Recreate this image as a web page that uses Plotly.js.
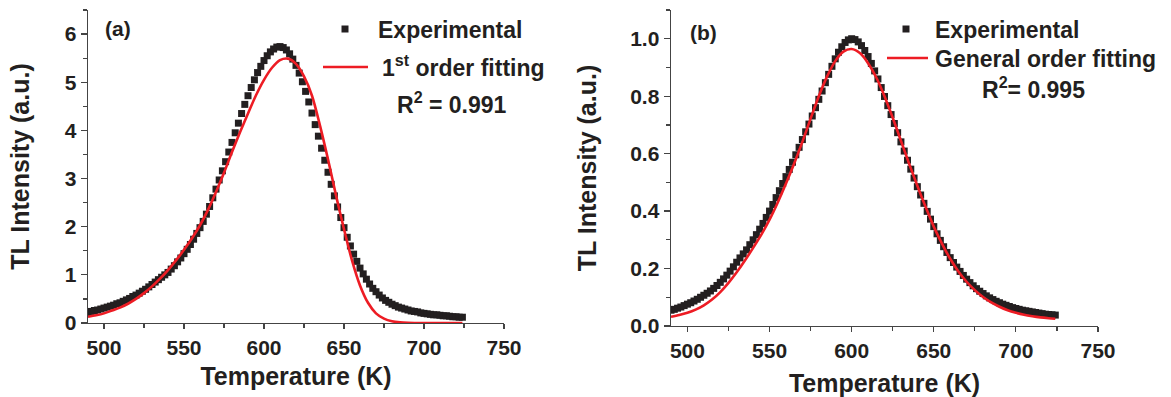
<!DOCTYPE html>
<html>
<head>
<meta charset="utf-8">
<script src="https://cdn.plot.ly/plotly-3.0.1.min.js"></script>
<style>
  html, body { margin: 0; padding: 0; background: #ffffff; }
  #chart { width: 1171px; height: 397px; }
</style>
</head>
<body>
<div id="chart"></div>
<script>
// ---------- Data ----------
// Temperatures of the experimental points (K), shared by both panels
const tempExp = [
  490,492,494,496,498,500,502,504,506,508,
  510,512,514,516,518,520,522,524,526,528,
  530,532,534,536,538,540,542,544,546,548,
  550,552,554,556,558,560,562,564,566,568,
  570,572,574,576,578,580,582,584,586,588,
  590,592,594,596,598,600,602,604,606,608,
  610,612,614,616,618,620,622,624,626,628,
  630,632,634,636,638,640,642,644,646,648,
  650,652,654,656,658,660,662,664,666,668,
  670,672,674,676,678,680,682,684,686,688,
  690,692,694,696,698,700,702,704,706,708,
  710,712,714,716,718,720,722,724
];

// Panel (a): experimental TL intensity
const expA = [
  0.22,0.24,0.26,0.27,0.29,0.31,0.33,0.35,0.37,0.40,
  0.42,0.45,0.48,0.51,0.55,0.58,0.62,0.66,0.70,0.75,
  0.80,0.85,0.90,0.95,1.00,1.05,1.12,1.19,1.27,1.35,
  1.44,1.53,1.63,1.74,1.86,1.98,2.11,2.26,2.42,2.60,
  2.78,2.97,3.16,3.35,3.55,3.75,3.95,4.15,4.35,4.54,
  4.72,4.89,5.05,5.20,5.33,5.45,5.55,5.63,5.69,5.73,
  5.74,5.72,5.67,5.59,5.48,5.35,5.19,5.01,4.81,4.59,
  4.36,4.12,3.88,3.63,3.38,3.13,2.88,2.64,2.41,2.19,
  1.98,1.78,1.60,1.43,1.28,1.14,1.02,0.91,0.81,0.72,
  0.65,0.58,0.52,0.47,0.43,0.39,0.36,0.33,0.31,0.29,
  0.27,0.25,0.24,0.23,0.21,0.20,0.19,0.18,0.17,0.17,
  0.16,0.15,0.15,0.14,0.13,0.13,0.12,0.12
];

// Panel (b): experimental TL intensity (normalised)
const expB = [
  0.055,0.058,0.062,0.066,0.071,0.076,0.081,0.087,0.093,0.100,
  0.107,0.114,0.122,0.131,0.141,0.152,0.164,0.177,0.191,0.206,
  0.222,0.237,0.251,0.265,0.283,0.300,0.318,0.337,0.357,0.378,
  0.400,0.423,0.447,0.471,0.496,0.520,0.545,0.570,0.596,0.622,
  0.649,0.676,0.703,0.731,0.760,0.789,0.818,0.847,0.876,0.904,
  0.930,0.953,0.972,0.987,0.996,1.000,0.997,0.989,0.976,0.959,
  0.938,0.914,0.888,0.860,0.830,0.799,0.767,0.736,0.705,0.673,
  0.641,0.609,0.577,0.546,0.515,0.485,0.456,0.427,0.399,0.372,
  0.346,0.321,0.298,0.276,0.256,0.238,0.221,0.205,0.190,0.176,
  0.163,0.151,0.140,0.130,0.121,0.113,0.105,0.098,0.092,0.086,
  0.081,0.076,0.072,0.068,0.064,0.061,0.058,0.055,0.053,0.051,
  0.049,0.047,0.045,0.043,0.041,0.040,0.039,0.038
];

// Temperatures of the fitted curves (K)
const tempFit = [
  490,495,500,505,510,515,520,525,530,535,
  540,545,550,555,560,565,570,575,580,585,
  590,595,600,605,610,615,620,625,630,635,
  640,645,650,655,660,665,670,675,680,685,
  690,695,700,705,710,715,720,724
];

// Panel (a): 1st order fitting
const fitA = [
  0.13,0.16,0.20,0.26,0.32,0.40,0.50,0.62,0.76,0.92,
  1.10,1.30,1.52,1.76,2.03,2.35,2.72,3.12,3.55,3.96,
  4.35,4.73,5.05,5.30,5.46,5.49,5.38,5.12,4.72,4.10,
  3.40,2.65,1.95,1.30,0.78,0.42,0.20,0.09,0.035,0.013,
  0.004,0.001,0,0,0,0,0,0
];

// Panel (b): general order fitting
const fitB = [
  0.032,0.038,0.046,0.057,0.072,0.092,0.118,0.150,0.187,0.228,
  0.272,0.318,0.370,0.430,0.496,0.566,0.641,0.722,0.800,0.868,
  0.922,0.955,0.964,0.950,0.915,0.865,0.800,0.725,0.645,0.565,
  0.488,0.415,0.346,0.287,0.234,0.190,0.154,0.125,0.101,0.082,
  0.067,0.055,0.046,0.039,0.034,0.030,0.027,0.025
];

// Text
const labelExp = 'Experimental';
const labelFitA = '1<sup>st</sup> order fitting';
const labelFitB = 'General order fitting';
const r2A = 'R<sup>2</sup> = 0.991';
const r2B = 'R<sup>2</sup>= 0.995';
const xTitle = 'Temperature (K)';
const yTitle = 'TL Intensity (a.u.)';

// ---------- Styles ----------
const FAM = 'Liberation Sans, Arial, Helvetica, sans-serif';
const INK = '#231f20';
const RED = '#ed1c24';
const W = 1171, H = 397;
const px = v => v / W;
const py = v => 1 - v / H;

const traces = [
  { x: tempExp, y: expA, type: 'scatter', mode: 'markers', name: labelExp,
    marker: { symbol: 'square', size: 7, color: INK },
    xaxis: 'x', yaxis: 'y', showlegend: false },
  { x: tempFit, y: fitA, type: 'scatter', mode: 'lines', name: labelFitA,
    line: { color: RED, width: 2.6, shape: 'spline', smoothing: 0.8 },
    xaxis: 'x', yaxis: 'y', showlegend: false },
  { x: tempExp, y: expB, type: 'scatter', mode: 'markers', name: labelExp,
    marker: { symbol: 'square', size: 7, color: INK },
    xaxis: 'x2', yaxis: 'y2', showlegend: false },
  { x: tempFit, y: fitB, type: 'scatter', mode: 'lines', name: labelFitB,
    line: { color: RED, width: 2.6, shape: 'spline', smoothing: 0.8 },
    xaxis: 'x2', yaxis: 'y2', showlegend: false }
];

const tickFont = { family: FAM, size: 21, color: INK, weight: 'bold' };
const titleFont = { family: FAM, size: 25, color: INK, weight: 'bold' };

function xAxis(domain, anchor, standoff) {
  return {
    domain: domain, anchor: anchor, range: [490, 750],
    tickmode: 'linear', tick0: 500, dtick: 50,
    ticks: 'outside', ticklen: 5, tickwidth: 1.2, tickcolor: '#444',
    minor: { dtick: 25, tick0: 500, ticks: 'outside', ticklen: 4, tickwidth: 1.2, tickcolor: '#444' },
    showline: true, linecolor: '#444', linewidth: 1.4, mirror: false,
    showgrid: false, zeroline: false,
    tickfont: tickFont,
    title: { text: xTitle, font: titleFont, standoff: standoff }
  };
}
function yAxis(domain, anchor, range, dtick, minorD, fmt, standoff) {
  return {
    domain: domain, anchor: anchor, range: range,
    tickmode: 'linear', tick0: 0, dtick: dtick, tickformat: fmt,
    ticks: 'outside', ticklen: 6, tickwidth: 1.2, tickcolor: '#444',
    minor: { dtick: minorD, tick0: 0, ticks: 'outside', ticklen: 4, tickwidth: 1.2, tickcolor: '#444' },
    showline: true, linecolor: '#444', linewidth: 1.4, mirror: false,
    showgrid: false, zeroline: false,
    tickfont: tickFont,
    title: { text: yTitle, font: titleFont, standoff: standoff }
  };
}

const legendFont = { family: FAM, size: 23, color: INK, weight: 'bold' };

function note(text, x, y, anchor, font) {
  return { text: text, x: px(x), y: py(y), xref: 'paper', yref: 'paper',
           xanchor: anchor, yanchor: 'middle', showarrow: false, font: font };
}

// Hand-made legends (sample symbols + text), placed as in the reference
const legendShapes = [
  { type: 'rect', xref: 'paper', yref: 'paper',
    x0: px(341.5), x1: px(348.5), y0: py(25.5), y1: py(32.5),
    fillcolor: INK, line: { width: 0 } },
  { type: 'line', xref: 'paper', yref: 'paper',
    x0: px(323), x1: px(368), y0: py(67), y1: py(67),
    line: { color: RED, width: 2.6 } },
  { type: 'rect', xref: 'paper', yref: 'paper',
    x0: px(902.5), x1: px(909.5), y0: py(25.5), y1: py(32.5),
    fillcolor: INK, line: { width: 0 } },
  { type: 'line', xref: 'paper', yref: 'paper',
    x0: px(887), x1: px(928), y0: py(58), y1: py(58),
    line: { color: RED, width: 2.6 } }
];

const layout = {
  width: W, height: H,
  margin: { l: 0, r: 0, t: 0, b: 0 },
  paper_bgcolor: '#ffffff', plot_bgcolor: '#ffffff',
  font: { family: FAM, color: INK, weight: 'bold' },
  xaxis: xAxis([px(88), px(504)], 'y', 10),
  yaxis: yAxis([1 - 323 / H, 1 - 10 / H], 'x', [0, 6.5], 1, 0.5, 'd', 28),
  xaxis2: xAxis([px(671), px(1098)], 'y2', 16),
  yaxis2: yAxis([1 - 326 / H, 1 - 10 / H], 'x2', [0, 1.1], 0.2, 0.1, '.1f', 26),
  showlegend: false,
  shapes: legendShapes,
  annotations: [
    note('(a)', 118, 29, 'center', { family: FAM, size: 21, color: INK, weight: 'bold' }),
    note('(b)', 703, 33, 'center', { family: FAM, size: 21, color: INK, weight: 'bold' }),
    note(labelExp, 376, 30, 'left', legendFont),
    note(labelFitA, 380, 66, 'left', legendFont),
    note(r2A, 452, 103, 'center', legendFont),
    note(labelExp, 933, 30, 'left', legendFont),
    note(labelFitB, 933, 59, 'left', legendFont),
    note(r2B, 1033, 88, 'center', legendFont)
  ]
};

Plotly.newPlot('chart', traces, layout, { staticPlot: true, displayModeBar: false });
</script>
</body>
</html>
